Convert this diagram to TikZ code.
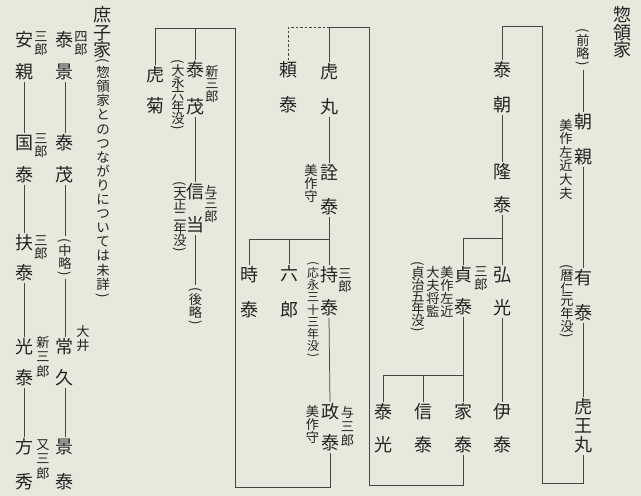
\documentclass[tikz,border=0pt]{standalone}
\usepackage{fontspec}
\usepackage{graphicx}
\newfontfamily\jp{Noto Sans CJK JP}
\definecolor{bg}{RGB}{232,232,221}
\definecolor{ink}{RGB}{35,35,35}
\definecolor{lc}{RGB}{70,70,70}
\newdimen\tatesp \newdimen\tatepp \newdimen\tatepw
\def\tateend{TATEEND}
\def\tatebox#1{\hbox to 1em{\vrule height .88em depth .12em width 0pt\hss#1\hss}}
\def\tateparen#1{\setbox0=\hbox{#1}\tatepw=\wd0\relax
  \hbox to 1em{\vrule height .68em depth 0pt width 0pt\hss
    \raise\dimexpr .38em+.5\tatepw\relax\hbox{\rotatebox{-90}{#1}}\hss}}
\def\tateA#1{%
  \ifx\tateend#1%
  \else
    \ifx(#1%
      \tateparen{(}\baselineskip=\tatepp\relax
    \else
      \ifx)#1%
        \baselineskip=\tatepp\relax\tateparen{)}\baselineskip=\tatesp\relax
      \else
        \tatebox{#1}\baselineskip=\tatesp\relax
      \fi
    \fi
    \expandafter\tateA
  \fi}
\newcommand\tate[3]{\vbox{\tatesp=#1\relax\tatepp=#2\relax
  \baselineskip=\tatesp\relax\lineskiplimit=-\maxdimen\lineskip=0pt\relax
  \tateA#3\tateend}}
\tikzset{
  nm/.style={inner sep=0pt, outer sep=0pt, text=ink, font=\jp\fontsize{18}{18}\selectfont},
  sm/.style={inner sep=0pt, outer sep=0pt, text=ink, font=\jp\fontsize{13.2}{13.2}\selectfont},
  ln/.style={draw=lc, line width=0.75pt},
  lk/.style={ln, shorten <=1pt, shorten >=1pt},
  lt/.style={ln, shorten >=1pt},
}
\begin{document}
\begin{tikzpicture}[x=1pt,y=-1pt]
\fill[bg] (0,0) rectangle (641,496);
\useasboundingbox (0,0) rectangle (641,496);
% ---------- right: 惣領家 ----------
\node[nm] (T1) at (622,32.5) {\tate{17.5pt}{0pt}{惣領家}};
\node[sm] (R0) at (583,48) {\tate{13pt}{10pt}{(前略)}};
\node[nm] (R1) at (583,139.5) {\tate{35pt}{0pt}{朝親}};
\node[sm] (R1a) at (566,159) {\tate{13.6pt}{0pt}{美作左近大夫}};
\node[nm] (R2) at (583,295.5) {\tate{35pt}{0pt}{有泰}};
\node[sm] (R2a) at (567,301.5) {\tate{12.8pt}{9pt}{(暦仁元年没)}};
\node[nm] (R3) at (583,426) {\tate{19pt}{0pt}{虎王丸}};
% column 502
\node[nm] (P1) at (502.5,87.5) {\tate{35pt}{0pt}{泰朝}};
\node[nm] (P2) at (502.5,188.5) {\tate{33pt}{0pt}{隆泰}};
\node[nm] (P3) at (502.5,291.5) {\tate{33pt}{0pt}{弘光}};
\node[nm] (P4) at (502.5,428.5) {\tate{33pt}{0pt}{伊泰}};
\node[nm] (P5) at (463,291) {\tate{32pt}{0pt}{貞泰}};
\node[sm] (P5a) at (481,277.5) {\tate{13pt}{0pt}{三郎}};
\node[sm] (P5b) at (447,292) {\tate{12.7pt}{0pt}{美作左近}};
\node[sm] (P5c) at (433,292) {\tate{12.7pt}{0pt}{大夫将監}};
\node[sm] (P5d) at (418,297) {\tate{12pt}{9pt}{(貞治五年没)}};
\node[nm] (P6) at (383,428.5) {\tate{33pt}{0pt}{泰光}};
\node[nm] (P7) at (423,428.5) {\tate{33pt}{0pt}{信泰}};
\node[nm] (P8) at (463,428.5) {\tate{33pt}{0pt}{家泰}};
% column 329
\node[nm] (Q0) at (288,87.5) {\tate{35pt}{0pt}{頼泰}};
\node[nm] (Q1) at (329,89.5) {\tate{35pt}{0pt}{虎丸}};
\node[nm] (Q2) at (329,190) {\tate{34pt}{0pt}{詮泰}};
\node[sm] (Q2a) at (311,183) {\tate{13pt}{0pt}{美作守}};
\node[nm] (Q3) at (249,292.5) {\tate{35pt}{0pt}{時泰}};
\node[nm] (Q4) at (289,291.5) {\tate{36pt}{0pt}{六郎}};
\node[nm] (Q5) at (329,291.5) {\tate{33pt}{0pt}{持泰}};
\node[sm] (Q5a) at (345,279.5) {\tate{13pt}{0pt}{三郎}};
\node[sm, font=\jp\fontsize{12}{12}\selectfont] (Q5b) at (313,310) {\tate{12.3pt}{9.5pt}{(応永三十三年没)}};
\node[nm] (Q6) at (330,427.5) {\tate{31pt}{0pt}{政泰}};
\node[sm] (Q6a) at (347.5,426) {\tate{14pt}{0pt}{与三郎}};
\node[sm] (Q6b) at (312.5,424) {\tate{13pt}{0pt}{美作守}};
% column 195
\node[nm] (S1) at (155,90.5) {\tate{31pt}{0pt}{虎菊}};
\node[nm] (S2) at (195.5,88.5) {\tate{37pt}{0pt}{泰茂}};
\node[sm] (S2a) at (212,83.5) {\tate{12.5pt}{0pt}{新三郎}};
\node[sm] (S2b) at (178,95) {\tate{12pt}{9pt}{(大永六年没)}};
\node[nm] (S3) at (195.5,208.5) {\tate{33pt}{0pt}{信当}};
\node[sm] (S3a) at (211,203.5) {\tate{12.5pt}{0pt}{与三郎}};
\node[sm] (S3b) at (180,217.5) {\tate{12pt}{9pt}{(天正二年没)}};
\node[sm] (S4) at (195.5,307) {\tate{13pt}{10pt}{(後略)}};
% ---------- left: 庶子家 ----------
\node[nm] (H1) at (102,32.5) {\tate{17.5pt}{0pt}{庶子家}};
\node[sm, font=\jp\fontsize{13.5}{13.5}\selectfont] (H1a) at (103,178.8) {\tate{14.1pt}{12pt}{(惣領家とのつながりについては未詳)}};
\node[nm] (A1) at (24.5,56) {\tate{32pt}{0pt}{安親}};
\node[sm] (A1a) at (41,42.5) {\tate{13pt}{0pt}{三郎}};
\node[nm] (A2) at (24.5,159) {\tate{32pt}{0pt}{国泰}};
\node[sm] (A2a) at (41,144.5) {\tate{13pt}{0pt}{三郎}};
\node[nm] (A3) at (24.5,258) {\tate{30pt}{0pt}{扶泰}};
\node[sm] (A3a) at (41,246.5) {\tate{13pt}{0pt}{三郎}};
\node[nm] (A4) at (24.5,362.5) {\tate{31pt}{0pt}{光泰}};
\node[sm] (A4a) at (43,356.5) {\tate{14.5pt}{0pt}{新三郎}};
\node[nm] (A5) at (24.5,464.5) {\tate{35pt}{0pt}{方秀}};
\node[sm] (A5a) at (43,458.5) {\tate{14.5pt}{0pt}{又三郎}};
\node[nm] (B1) at (65,56) {\tate{32pt}{0pt}{泰景}};
\node[sm] (B1a) at (81,42.5) {\tate{13pt}{0pt}{四郎}};
\node[nm] (B2) at (65,159) {\tate{32pt}{0pt}{泰茂}};
\node[sm] (B3) at (65,257.5) {\tate{13pt}{10pt}{(中略)}};
\node[nm] (B4) at (65,362.5) {\tate{31pt}{0pt}{常久}};
\node[sm] (B4a) at (83,338) {\tate{14pt}{0pt}{大井}};
\node[nm] (B5) at (65,464.5) {\tate{35pt}{0pt}{景泰}};
% ---------- coordinates ----------
\coordinate (k1) at (583,483);
\coordinate (k2) at (542,483);
\coordinate (k3) at (542,26);
\coordinate (k4) at (502.5,26);
\coordinate (k5) at (463,485);
\coordinate (k6) at (369,485);
\coordinate (k7) at (369,27);
\coordinate (k8) at (329,27);
\coordinate (k9) at (288,27);
\coordinate (k10) at (330,487);
\coordinate (k11) at (235,487);
\coordinate (k12) at (235,28);
\coordinate (k13) at (155,28);
\coordinate (k14) at (195.5,28);
\coordinate (j1) at (502.5,238);
\coordinate (j1l) at (463,238);
\coordinate (j2) at (463,375);
\coordinate (j2l) at (383,375);
\coordinate (j2m) at (423,375);
\coordinate (j3) at (329,239);
\coordinate (j3l) at (249,239);
\coordinate (j3m) at (289,239);
% ---------- connectors ----------
\draw[lk] (R0.south) -- (R1.north);
\draw[lk] (R1.south) -- (R2.north);
\draw[lk] (R2.south) -- (R3.north);
\draw[lk] (R3.south) -- (k1) -- (k2) -- (k3) -- (k4) -- (P1.north);
\draw[lk] (P1.south) -- (P2.north);
\draw[lk] (P2.south) -- (P3.north);
\draw[lk] (P3.south) -- (P4.north);
\draw[lt] (j1) -- (j1l) -- (P5.north);
\draw[lk] (P5.south) -- (P8.north);
\draw[lt] (j2) -- (j2l) -- (P6.north);
\draw[lt] (j2m) -- (P7.north);
\draw[lk] (P8.south) -- (k5) -- (k6) -- (k7) -- (k8) -- (Q1.north);
\draw[ln, dash pattern=on 2.5pt off 2pt, shorten <=1pt] (Q0.north) -- (k9) -- (k8);
\draw[lk] (Q1.south) -- (Q2.north);
\draw[lk] (Q2.south) -- (Q5.north);
\draw[ln] (j3) -- (j3l);
\draw[lt] (j3l) -- (Q3.north);
\draw[lt] (j3m) -- (Q4.north);
\draw[lk] (Q5.south) -- (Q6.north);
\draw[lk] (Q6.south) -- (k10) -- (k11) -- (k12) -- (k13) -- (S1.north);
\draw[lt] (k14) -- (S2.north);
\draw[lk] (S2.south) -- (S3.north);
\draw[lk] (S3.south) -- (S4.north);
\draw[lk] (A1.south) -- (A2.north);
\draw[lk] (A2.south) -- (A3.north);
\draw[lk] (A3.south) -- (A4.north);
\draw[lk] (A4.south) -- (A5.north);
\draw[lk] (B1.south) -- (B2.north);
\draw[lk] (B2.south) -- (B3.north);
\draw[lk] (B3.south) -- (B4.north);
\draw[lk] (B4.south) -- (B5.north);
\end{tikzpicture}
\end{document}
